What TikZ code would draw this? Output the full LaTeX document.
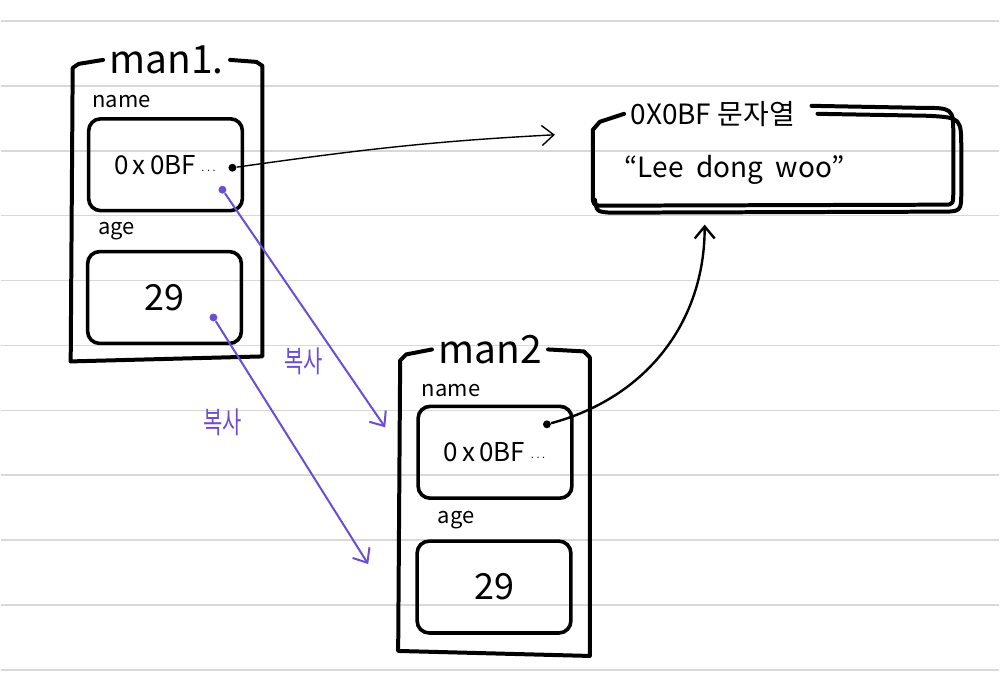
\documentclass[tikz,border=0pt]{standalone}
\usepackage{fontspec}
\setmainfont{Noto Sans CJK KR}
\usetikzlibrary{arrows.meta}

\definecolor{copyline}{RGB}{108,78,214}
\definecolor{ruled}{RGB}{216,216,216}

\tikzset{
  frame/.style={line width=2pt,line join=round,line cap=round},
  cell/.style={draw,line width=1.8pt,rounded corners=6pt,minimum width=77pt,minimum height=46pt,font=\fontsize{13}{15}\selectfont},
  boxtitle/.style={inner sep=3pt,font=\fontsize{19.5}{23}\selectfont},
  fieldlbl/.style={inner sep=1pt,font=\fontsize{11}{13}\selectfont},
  ptdot/.style={fill,circle,inner sep=1.4pt},
  ptr/.style={-{Straight Barb[length=6pt,width=10pt]},line width=0.7pt},
  copyarrow/.style={ptr,copyline,line width=1pt},
  copylbl/.style={copyline,xscale=0.7,font=\fontsize{15}{17}\selectfont}
}

\begin{document}
\begin{tikzpicture}[x=0.5pt,y=-0.5pt]
\fill[white] (0,0) rectangle (1000,689);
\draw[ruled,line width=0.8pt] (0,21) -- (1000,21);
\draw[ruled,line width=0.8pt] (0,86) -- (1000,86);
\draw[ruled,line width=0.8pt] (0,151) -- (1000,151);
\draw[ruled,line width=0.8pt] (0,216) -- (1000,216);
\draw[ruled,line width=0.8pt] (0,281) -- (1000,281);
\draw[ruled,line width=0.8pt] (0,346) -- (1000,346);
\draw[ruled,line width=0.8pt] (0,411) -- (1000,411);
\draw[ruled,line width=0.8pt] (0,476) -- (1000,476);
\draw[ruled,line width=0.8pt] (0,541) -- (1000,541);
\draw[ruled,line width=0.8pt] (0,606) -- (1000,606);
\draw[ruled,line width=0.8pt] (0,671) -- (1000,671);

\node[boxtitle] (m1title) at (166,60) {man1.};
\draw[frame] (m1title.west) -- (78,64) -- (72,68) -- (70,362) -- (262,357) -- (262,66) -- (256,62) -- (m1title.east);
\node[fieldlbl] (n1lbl) at (121,102) {name};
\node[cell] (n1box) at (165,165) {0\,x\,0BF\,{\tiny···}};
\node[fieldlbl] (a1lbl) at (116,232) {age};
\node[cell] (a1box) at (164,298) {\fontsize{18}{20}\selectfont 29};

\node[boxtitle] (m2title) at (490,350) {man2};
\draw[frame] (m2title.west) -- (406,355) -- (400,361) -- (398,652) -- (590,657) -- (590,358) -- (584,352) -- (m2title.east);
\node[fieldlbl] (n2lbl) at (451,391) {name};
\node[cell] (n2box) at (495,453) {0\,x\,0BF\,{\tiny···}};
\node[fieldlbl] (a2lbl) at (456,521) {age};
\node[cell] (a2box) at (494,588) {\fontsize{18}{20}\selectfont 29};

\node[boxtitle,font=\fontsize{14}{17}\selectfont] (strtitle) at (713,114) {0X0BF 문자열};
\node[font=\fontsize{14}{17}\selectfont] (strtext) at (735,170) {“Lee\ \ dong\ \ woo”};
\draw[frame] (strtitle.west) -- (600,122) -- (593,130) -- (593,195) .. controls (593,206) .. (606,206) -- (945,205) .. controls (954,205) .. (954,190) -- (954,135) .. controls (954,108) .. (920,108) -- (812,106);
\draw[frame] (818,114) -- (930,116) .. controls (962,118) .. (962,150) -- (962,192) .. controls (962,212) .. (940,212) -- (610,213) .. controls (597,212) .. (595,200);

\node[ptdot] (n1ptr) at (232,168) {};
\node[ptdot] (n2ptr) at (547,425) {};
\node[ptdot,copyline] (n1cp) at (222,190) {};
\node[ptdot,copyline] (a1cp) at (213,318) {};
\coordinate (strin) at (555,135);
\coordinate (strbot) at (705,225);
\coordinate (n2in) at (385,428);
\coordinate (a2in) at (368,565);

\draw[ptr] (n1ptr) to[out=8,in=183] (strin);
\draw[ptr,line width=1.2pt] (n2ptr) to[out=15,in=-90] (strbot);
\draw[copyarrow] (n1cp) -- (n2in);
\draw[copyarrow] (a1cp) -- (a2in);
\node[copylbl] (cp1lbl) at (303,362) {복사};
\node[copylbl] (cp2lbl) at (222,423) {복사};
\end{tikzpicture}
\end{document}
